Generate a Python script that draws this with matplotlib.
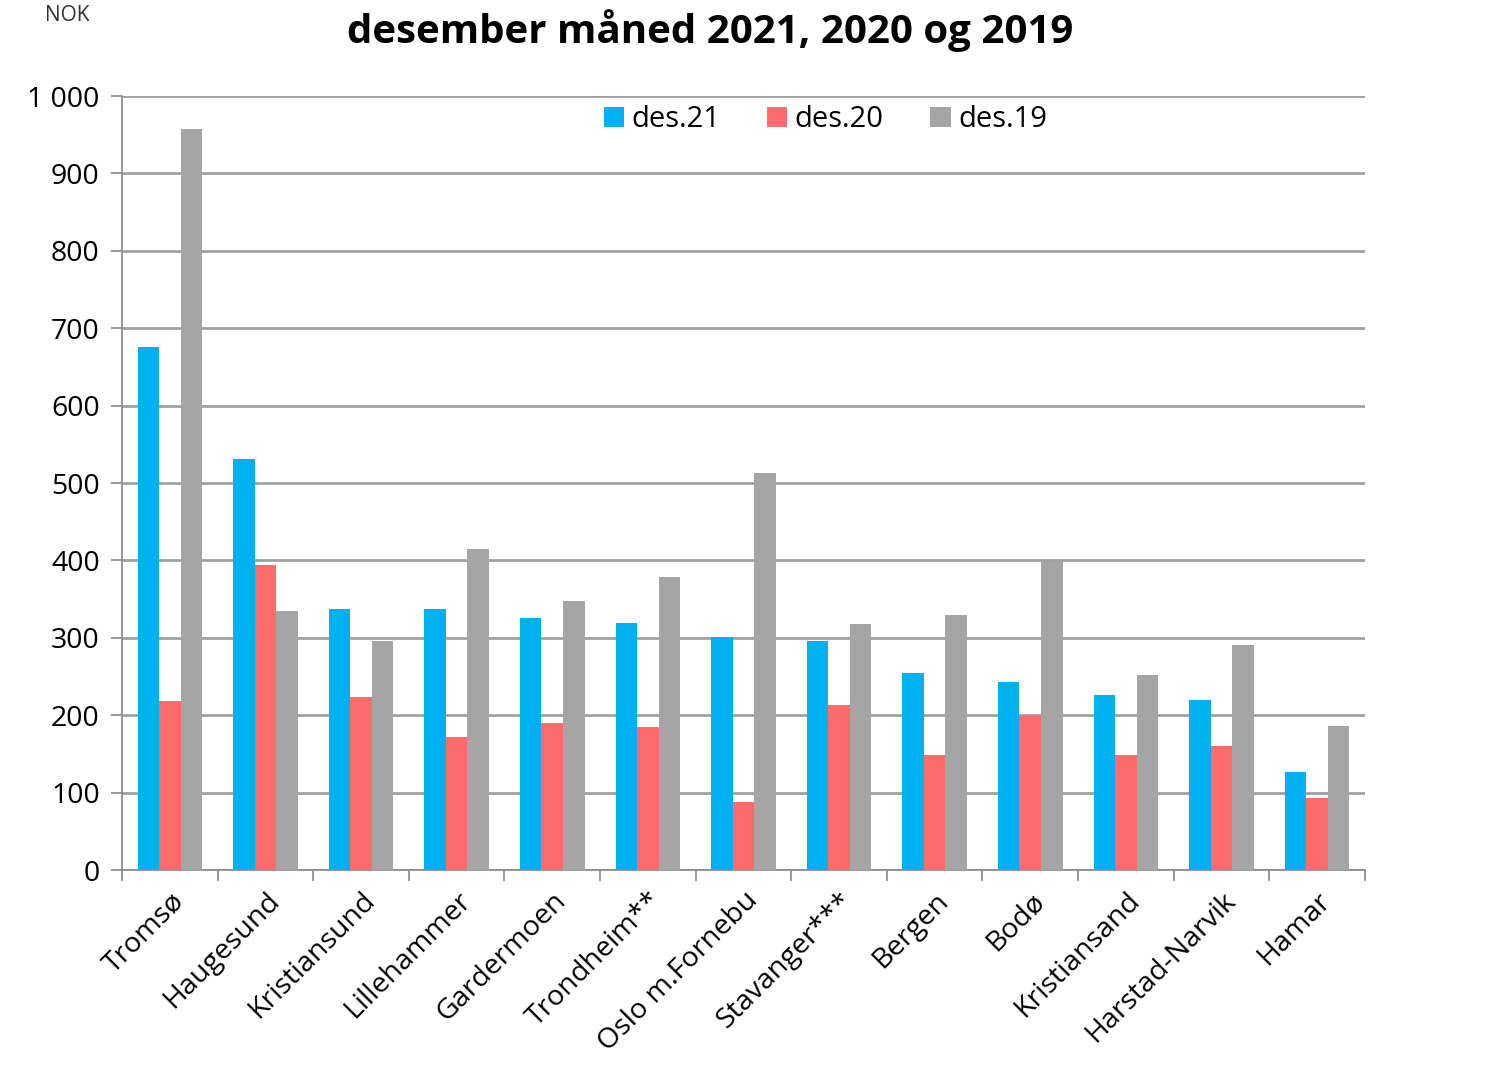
import numpy as np
import matplotlib.pyplot as plt
from matplotlib.ticker import FuncFormatter

plt.rcParams['font.family'] = ['Open Sans', 'DejaVu Sans']

cities = ["Tromsø", "Haugesund", "Kristiansund", "Lillehammer", "Gardermoen",
          "Trondheim**", "Oslo m.Fornebu", "Stavanger***", "Bergen", "Bodø",
          "Kristiansand", "Harstad-Narvik", "Hamar"]
des21 = [676, 531, 337, 337, 326, 319, 301, 296, 255, 243, 226, 220, 127]
des20 = [218, 394, 224, 172, 190, 185, 88, 213, 149, 199, 149, 160, 93]
des19 = [957, 335, 296, 415, 348, 379, 513, 318, 330, 399, 252, 291, 186]
series_labels = ["des.21", "des.20", "des.19"]
colors = ["#00B0F0", "#FF6B6B", "#A5A5A5"]

fig = plt.figure(figsize=(15.01, 10.8), dpi=100)
ax = fig.add_axes([0.0813, 0.1944, 0.828, 0.7167])

x = np.arange(len(cities))
w = 0.225
for i, (vals, lab, c) in enumerate(zip([des21, des20, des19], series_labels, colors)):
    ax.bar(x + (i - 1) * w, vals, width=w, color=c, label=lab, zorder=3)

ax.set_xlim(-0.5, len(cities) - 0.5)
ax.set_ylim(0, 1000)
ax.set_yticks(np.arange(0, 1001, 100))
ax.yaxis.set_major_formatter(FuncFormatter(lambda v, p: f"{int(v):,}".replace(",", " ")))
ax.grid(axis='y', color='#A0A0A0', linewidth=2, zorder=0)

ax.set_xticks(x)
ax.set_xticklabels(cities, rotation=45, ha='right', rotation_mode='anchor')
ax.set_xticks(np.arange(-0.5, len(cities)), minor=True)
ax.tick_params(axis='x', which='major', length=0, pad=12, labelsize=20.5)
ax.tick_params(axis='x', which='minor', length=8, color='#888888', width=1.2)
ax.tick_params(axis='y', length=8, color='#888888', width=1.2, labelsize=20.5, pad=8)

for s in ['top', 'right']:
    ax.spines[s].set_visible(False)
for s in ['left', 'bottom']:
    ax.spines[s].set_color('#888888')
    ax.spines[s].set_linewidth(1.2)

ax.legend(loc='upper center', bbox_to_anchor=(0.566, 1.022), ncol=3, frameon=False,
          fontsize=21, handlelength=0.7, handleheight=0.7, handletextpad=0.25,
          columnspacing=1.6)

fig.text(0.473, 0.972, "desember måned 2021, 2020 og 2019", ha='center', va='center',
         fontsize=29, fontweight='bold')
fig.text(0.045, 0.986, "NOK", ha='center', va='center', fontsize=15, color='#333333')

fig.savefig("out.png", dpi=100)
